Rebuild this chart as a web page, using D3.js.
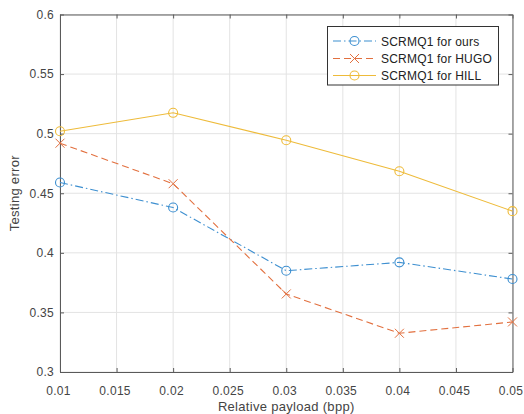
<!DOCTYPE html>
<html><head><meta charset="utf-8">
<script src="https://cdn.jsdelivr.net/npm/d3@7"></script>
<style>body{margin:0;background:#fff}svg{display:block}text{font-family:"Liberation Sans",Arial,sans-serif}</style>
</head><body><svg id="c" width="524" height="414"></svg>
<script>
const payload = [0.01, 0.02, 0.03, 0.04, 0.05];
const ours = [0.459, 0.438, 0.385, 0.392, 0.378];
const hugo = [0.492, 0.458, 0.3655, 0.3325, 0.342];
const hill = [0.502, 0.5175, 0.4945, 0.4685, 0.435];
const seriesNames = ["SCRMQ1 for ours", "SCRMQ1 for HUGO", "SCRMQ1 for HILL"];
const xTicks = [0.01,0.015,0.02,0.025,0.03,0.035,0.04,0.045,0.05];
const xTickLabels = ["0.01","0.015","0.02","0.025","0.03","0.035","0.04","0.045","0.05"];
const yTicks = [0.3,0.35,0.4,0.45,0.5,0.55,0.6];
const yTickLabels = ["0.3","0.35","0.4","0.45","0.5","0.55","0.6"];

const svg = d3.select("#c");
const L=60, R=512.5, T=14.5, B=372;
const x = d3.scaleLinear().domain([0.01,0.05]).range([L,R]);
const y = d3.scaleLinear().domain([0.3,0.6]).range([B,T]);
const axisCol="#5a5a5a", txtCol="#444";

// grid
const g = svg.append("g");
g.selectAll(".gx").data(xTicks).enter().append("line")
 .attr("x1",d=>x(d)).attr("x2",d=>x(d)).attr("y1",T).attr("y2",B)
 .attr("stroke","#e3e3e3").attr("stroke-width",1);
g.selectAll(".gy").data(yTicks).enter().append("line")
 .attr("y1",d=>y(d)).attr("y2",d=>y(d)).attr("x1",L).attr("x2",R)
 .attr("stroke","#e3e3e3").attr("stroke-width",1);

// axes
const xa = d3.axisBottom(x).tickValues(xTicks).tickFormat((d,i)=>xTickLabels[i]).tickSizeInner(-4).tickSizeOuter(0).tickPadding(14);
const ya = d3.axisLeft(y).tickValues(yTicks).tickFormat((d,i)=>yTickLabels[i]).tickSizeInner(-4).tickSizeOuter(0).tickPadding(6);
const xg = svg.append("g").attr("transform",`translate(0,${B})`).call(xa);
const yg = svg.append("g").attr("transform",`translate(${L},0)`).call(ya);
const xt = d3.axisTop(x).tickValues(xTicks).tickFormat("").tickSizeInner(-4).tickSizeOuter(0);
const yr = d3.axisRight(y).tickValues(yTicks).tickFormat("").tickSizeInner(-4).tickSizeOuter(0);
const tg = svg.append("g").attr("transform",`translate(0,${T})`).call(xt);
const rg = svg.append("g").attr("transform",`translate(${R},0)`).call(yr);
[xg,yg,tg,rg].forEach(a=>{
  a.selectAll("path").attr("stroke",axisCol).attr("stroke-width",1);
  a.selectAll("line").attr("stroke",axisCol);
  a.selectAll("text").attr("fill",txtCol).style("font-size","12px")
   .style("font-family","Liberation Sans, Arial, sans-serif");
});
xg.selectAll("text").attr("dx","-2px").style("letter-spacing","0.3px");
yg.selectAll("text").style("letter-spacing","0.3px");

svg.append("text").attr("x",(L+R)/2).attr("y",410.5).attr("text-anchor","middle")
 .attr("fill",txtCol).style("font-size","13px").style("letter-spacing","0.3px").text("Relative payload (bpp)");
svg.append("text").attr("transform",`translate(19,${(T+B)/2}) rotate(-90)`).attr("text-anchor","middle")
 .attr("fill",txtCol).style("font-size","13px").style("letter-spacing","0.3px").text("Testing error");

const colors = ["#3d8fd0","#e2703f","#eebb3a"];
const dashes = ["8,3,1.5,3","7,4",null];
const data = [ours,hugo,hill];
const line = d3.line().x((d,i)=>x(payload[i])).y(d=>y(d));

function marker(sel, k, cx, cy){
  if(k===1){
    const s=4.5;
    sel.append("path").attr("d",`M${cx-s},${cy-s}L${cx+s},${cy+s}M${cx-s},${cy+s}L${cx+s},${cy-s}`)
      .attr("stroke",colors[k]).attr("stroke-width",1).attr("fill","none");
  } else {
    sel.append("circle").attr("cx",cx).attr("cy",cy).attr("r",4.5)
      .attr("stroke",colors[k]).attr("stroke-width",1.1).attr("fill","none");
  }
}

data.forEach((vals,k)=>{
  const p = svg.append("g");
  p.append("path").datum(vals).attr("d",line).attr("fill","none")
   .attr("stroke",colors[k]).attr("stroke-width",1.1)
   .attr("stroke-dasharray",dashes[k]);
  vals.forEach((v,i)=>marker(p,k,x(payload[i]),y(v)));
});

// legend
const lg = svg.append("g");
lg.append("rect").attr("x",327.5).attr("y",26.5).attr("width",171).attr("height",58.5)
 .attr("fill","#fff").attr("stroke","#333").attr("stroke-width",1);
const rows=[41,58.5,75.5];
seriesNames.forEach((n,k)=>{
  lg.append("line").attr("x1",333).attr("x2",376).attr("y1",rows[k]).attr("y2",rows[k])
   .attr("stroke",colors[k]).attr("stroke-width",1.1).attr("stroke-dasharray",dashes[k]);
  marker(lg,k,354.5,rows[k]);
  lg.append("text").attr("x",381).attr("y",rows[k]+4.5).attr("fill","#222")
   .style("font-size","12px").style("letter-spacing","0.2px").text(n);
});
</script></body></html>
